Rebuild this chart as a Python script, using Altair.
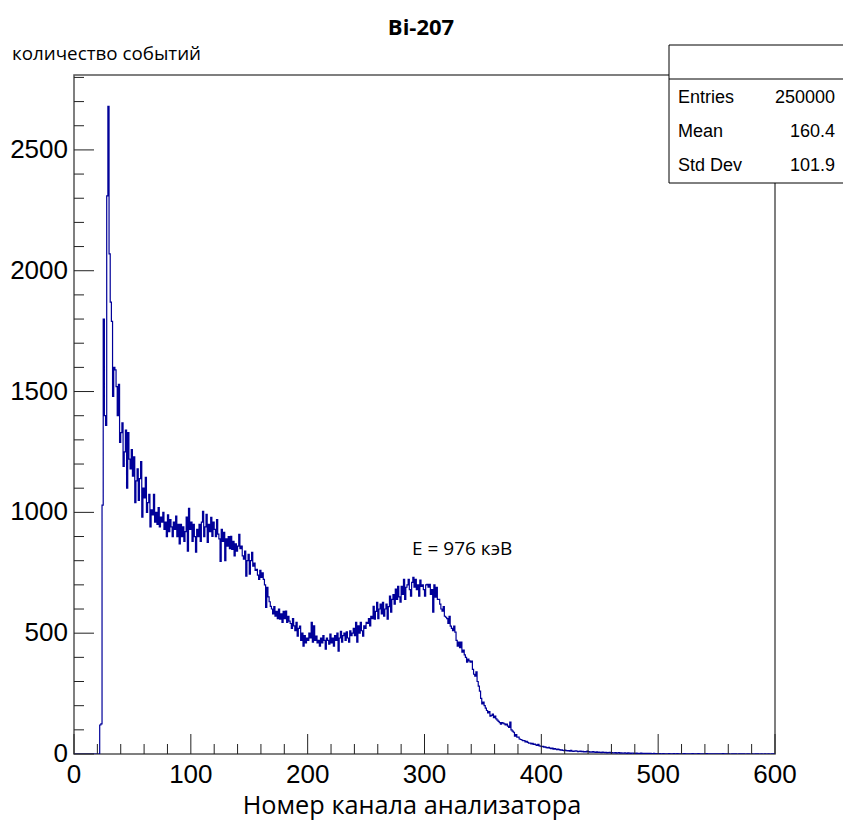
import altair as alt
import pandas as pd

# Histogram counts per analyzer channel (bins of width 1, channels 0..599)
c000 = [0] * 20
c020 = [0, 0, 120, 125, 1030, 1800, 1400, 1360, 2310, 2680]
c030 = [2070, 1870, 1790, 1480, 1600, 1590, 1520, 1400, 1530, 1290]
c040 = [1330, 1370, 1190, 1250, 1340, 1100, 1330, 1220, 1180, 1260]
c050 = [1150, 1230, 1040, 1130, 1180, 1050, 1140, 1210, 980, 1100]
c060 = [1060, 1145, 1000, 1040, 1075, 940, 1010, 990, 1075, 960]
c070 = [1000, 950, 1020, 940, 980, 960, 1000, 930, 960, 900]
c080 = [990, 920, 970, 940, 900, 960, 930, 985, 900, 950]
c090 = [870, 950, 900, 940, 880, 920, 980, 840, 1017, 930]
c100 = [960, 880, 950, 900, 835, 930, 900, 950, 880, 960]
c110 = [1004, 900, 940, 992, 876, 950, 920, 979, 901, 960]
c120 = [930, 900, 970, 910, 890, 797, 930, 880, 917, 800]
c130 = [890, 860, 900, 850, 901, 847, 880, 820, 870, 840]
c140 = [860, 909, 850, 860, 820, 806, 840, 736, 800, 826]
c150 = [744, 800, 835, 777, 790, 760, 764, 740, 723, 760]
c160 = [731, 750, 723, 700, 607, 690, 650, 630, 611, 600]
c170 = [580, 610, 570, 590, 560, 600, 558, 580, 545, 590]
c180 = [560, 591, 545, 570, 550, 540, 520, 560, 530, 510]
c190 = [545, 488, 520, 529, 470, 500, 446, 490, 460, 480]
c200 = [470, 500, 480, 545, 463, 530, 470, 488, 460, 470]
c210 = [446, 480, 460, 490, 470, 434, 480, 470, 455, 496]
c220 = [460, 480, 446, 490, 470, 500, 426, 480, 508, 463]
c230 = [490, 500, 470, 505, 480, 463, 510, 490, 500, 520]
c240 = [490, 545, 463, 530, 500, 545, 510, 488, 530, 520]
c250 = [545, 540, 560, 530, 570, 560, 611, 558, 590, 628]
c260 = [560, 600, 620, 580, 628, 570, 600, 620, 558, 610]
c270 = [653, 587, 640, 660, 620, 682, 640, 694, 650, 628]
c280 = [694, 660, 723, 640, 690, 700, 723, 680, 653, 710]
c290 = [731, 690, 723, 680, 700, 653, 720, 694, 700, 680]
c300 = [653, 700, 702, 690, 702, 660, 680, 587, 700, 649]
c310 = [690, 640, 640, 620, 600, 591, 610, 570, 566, 560]
c320 = [540, 570, 529, 520, 510, 529, 504, 470, 446, 463]
c330 = [440, 463, 421, 430, 410, 400, 380, 393, 385, 380]
c340 = [384, 350, 330, 322, 340, 300, 281, 260, 230, 207]
c350 = [215, 200, 190, 180, 170, 175, 157, 160, 165, 150]
c360 = [157, 145, 140, 135, 130, 124, 130, 128, 125, 120]
c370 = [124, 115, 110, 132, 100, 95, 90, 74, 80, 70]
c380 = [70, 62, 60, 58, 55, 55, 50, 52, 48, 45]
c390 = [45, 42, 44, 40, 41, 38, 36, 40, 34, 32]
c400 = [30, 32, 28, 30, 26, 25, 28, 24, 22, 24]
c410 = [20, 22, 20, 18, 20, 18, 16, 17, 15, 14]
c420 = [16, 14, 13, 14, 12, 15, 12, 11, 12, 13]
c430 = [12, 10, 11, 12, 10, 11, 9, 10, 9, 12]
c440 = [10, 8, 9, 8, 10, 8, 7, 9, 7, 8]
c450 = [7, 6, 8, 7, 6, 7, 5, 6, 7, 5]
c460 = [6, 5, 5, 6, 4, 5, 6, 4, 5, 4]
c470 = [4, 5, 4, 3, 5, 4, 3, 4, 4, 3]
c480 = [3, 4, 3, 3, 2, 4, 3, 2, 3, 3]
c490 = [2, 3, 2, 3, 2, 2, 3, 2, 2, 2]
c500 = [1, 2, 1, 0, 2, 1, 1, 0, 1, 2]
c510 = [1, 1, 0, 2, 1, 1, 2, 0, 1, 1]
c520 = [0, 1, 2, 1, 0, 1, 1, 1, 0, 2]
c530 = [1, 0, 1, 1, 2, 0, 1, 0, 1, 1]
c540 = [1, 2, 0, 1, 1, 0, 1, 1, 0, 1]
c550 = [0, 1, 1, 0, 1, 2, 0, 1, 0, 1]
c560 = [1, 0, 0, 1, 1, 0, 1, 0, 0, 1]
c570 = [0, 1, 0, 1, 0, 0, 1, 1, 0, 0]
c580 = [1, 0, 0, 1, 0, 1, 0, 0, 1, 0]
c590 = [0, 1, 0, 0, 1, 0, 0, 1, 0, 1]

counts = (c000 + c020 + c030 + c040 + c050 + c060 + c070 + c080 + c090 + c100
          + c110 + c120 + c130 + c140 + c150 + c160 + c170 + c180 + c190 + c200
          + c210 + c220 + c230 + c240 + c250 + c260 + c270 + c280 + c290 + c300
          + c310 + c320 + c330 + c340 + c350 + c360 + c370 + c380 + c390 + c400
          + c410 + c420 + c430 + c440 + c450 + c460 + c470 + c480 + c490 + c500
          + c510 + c520 + c530 + c540 + c550 + c560 + c570 + c580 + c590)

x_labels = [0, 100, 200, 300, 400, 500, 600]
y_labels = [0, 500, 1000, 1500, 2000, 2500]
x_minor_ticks = [v for v in range(0, 601, 20) if v % 100 != 0]
y_minor_ticks = [v for v in range(0, 2801, 100) if v % 500 != 0]

stat_names = ["Entries", "Mean", "Std Dev"]
stat_values = ["250000", "160.4", "101.9"]

W, H = 701, 679
X_DOMAIN = [0, 600]
Y_DOMAIN = [0, 2810]

hist = pd.DataFrame({"channel": list(range(len(counts) + 1)),
                     "count": counts + [counts[-1]]})

xs = alt.Scale(domain=X_DOMAIN, nice=False, zero=False)
ys = alt.Scale(domain=Y_DOMAIN, nice=False)

TICK_FONT = "Liberation Sans, Arial, sans-serif"
TEXT_FONT = "Open Sans, Noto Sans, sans-serif"

line = alt.Chart(hist).mark_line(
    interpolate="step-after", color="#000099", strokeWidth=1.2, clip=True
).encode(
    x=alt.X("channel:Q", scale=xs, axis=None),
    y=alt.Y("count:Q", scale=ys, axis=None),
)

def xticks(vals, length):
    return alt.Chart(pd.DataFrame({"v": vals})).mark_rule(color="#222", strokeWidth=1).encode(
        x=alt.X("v:Q", scale=xs, axis=None),
        y=alt.value(H), y2=alt.value(H - length))

def yticks(vals, length):
    return alt.Chart(pd.DataFrame({"v": vals})).mark_rule(color="#222", strokeWidth=1).encode(
        y=alt.Y("v:Q", scale=ys, axis=None),
        x=alt.value(0), x2=alt.value(length))

xlab = alt.Chart(pd.DataFrame({"v": x_labels, "t": [str(v) for v in x_labels]})).mark_text(
    font=TICK_FONT, fontSize=26, align="center", baseline="top", color="#000").encode(
    x=alt.X("v:Q", scale=xs, axis=None), y=alt.value(H + 8), text="t:N")
ylab = alt.Chart(pd.DataFrame({"v": y_labels, "t": [str(v) for v in y_labels]})).mark_text(
    font=TICK_FONT, fontSize=26, align="right", baseline="middle", color="#000").encode(
    y=alt.Y("v:Q", scale=ys, axis=None), x=alt.value(-6), text="t:N")

def txt(s, x, y, **kw):
    return alt.Chart(pd.DataFrame({"t": [s]})).mark_text(color="#000", **kw).encode(
        text="t:N", x=alt.value(x), y=alt.value(y))

title = txt("Bi-207", 347, -47, font=TEXT_FONT, fontSize=22, fontWeight="bold",
            align="center", baseline="middle")
ytitle = txt("количество событий", -62, -21, font=TEXT_FONT, fontSize=18.8,
             align="left", baseline="middle")
xtitle = txt("Номер канала анализатора", 338, 731, font=TEXT_FONT, fontSize=25.3,
             align="center", baseline="middle")
note = txt("E = 976 кэВ", 338, 474, font=TEXT_FONT, fontSize=19,
           align="left", baseline="middle")

box = alt.Chart(pd.DataFrame({"a": [0]})).mark_rect(
    fill="white", stroke="#000", strokeWidth=1).encode(
    x=alt.value(595), x2=alt.value(772), y=alt.value(-30), y2=alt.value(108))
box_line = alt.Chart(pd.DataFrame({"a": [0]})).mark_rule(color="#000", strokeWidth=1).encode(
    x=alt.value(595), x2=alt.value(772), y=alt.value(4))

stat_rows_y = [23, 57, 91]
stat_layers = []
for name, val, yy in zip(stat_names, stat_values, stat_rows_y):
    stat_layers.append(txt(name, 604, yy, font="Liberation Sans, Arial, sans-serif",
                           fontSize=18, align="left", baseline="middle"))
    stat_layers.append(txt(val, 761, yy, font="Liberation Sans, Arial, sans-serif",
                           fontSize=18, align="right", baseline="middle"))

chart = alt.layer(
    line,
    xticks(x_labels, 20), xticks(x_minor_ticks, 10),
    yticks(y_labels, 20), yticks(y_minor_ticks, 10),
    xlab, ylab,
    title, ytitle, xtitle, note,
    box, box_line, *stat_layers,
).properties(
    width=W, height=H,
    autosize=alt.AutoSizeParams(type="none"),
    padding={"left": 74, "top": 75, "right": 68, "bottom": 71},
    background="white",
).configure_view(stroke="#555", strokeWidth=1.5)

chart.save("out.html", embed_options={"renderer": "svg", "actions": False})
